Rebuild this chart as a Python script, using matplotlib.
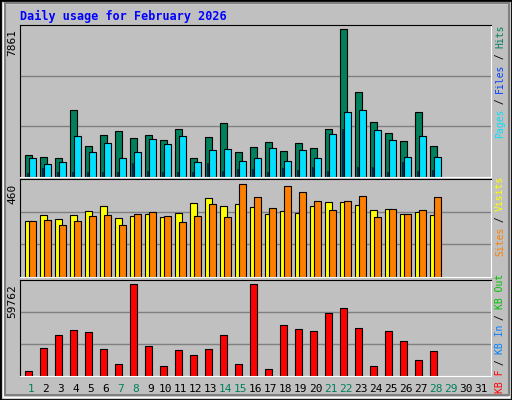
import matplotlib
matplotlib.use("Agg")
import matplotlib.pyplot as plt
from matplotlib.patches import Rectangle

days = list(range(1, 29))
all_days = list(range(1, 32))
weekend = [1, 7, 8, 14, 15, 21, 22, 28, 29]

hits_max = 7861
hits = [1150, 1040, 980, 3540, 1620, 2210, 2420, 2040, 2210, 1940, 2530, 980, 2100, 2850, 1300,
        1570, 1850, 1370, 1800, 1530, 2530, 7861, 4500, 2900, 2310, 1880, 3430, 1660]
files = [980, 660, 760, 2150, 1300, 1780, 980, 1300, 1990, 1720, 2150, 760, 1400, 1500, 850,
         1010, 1550, 820, 1400, 980, 2260, 3430, 3540, 2470, 1940, 1070, 2150, 1070]
pages = [180, 440, 230, 230, 230, 230, 230, 710, 280, 230, 230, 230, 710, 280, 390,
         390, 230, 440, 340, 500, 280, 2530, 500, 500, 230, 760, 280, 340]

visits_max = 460
visits = [276, 306, 286, 306, 326, 350, 291, 300, 310, 295, 315, 365, 390, 350, 360, 345,
          310, 326, 315, 350, 370, 370, 355, 330, 335, 310, 320, 306]
sites = [276, 281, 256, 276, 300, 306, 256, 310, 320, 300, 271, 300, 360, 296, 460, 395,
         340, 450, 420, 375, 330, 375, 400, 296, 335, 310, 330, 395]

kb_max = 59762
kb = [2840, 17900, 26400, 29700, 28400, 17200, 7420, 59762, 19200, 6110, 16800, 13500, 17200,
      26400, 7420, 59762, 4150, 32900, 30300, 29000, 40800, 44100, 31000, 6110, 29000, 22500,
      10000, 15900]

bg = "#c0c0c0"
fig = plt.figure(figsize=(5.12, 4.0), dpi=100)
fig.patch.set_facecolor(bg)
W, H = 512, 400

# bevelled frame
fig.patches.append(Rectangle((0, 0), 1, 1, transform=fig.transFigure, fill=False,
                             edgecolor="black", linewidth=2))
fig.patches.append(Rectangle((3 / W, 3 / H), 1 - 6 / W, 1 - 6 / H, transform=fig.transFigure,
                             fill=False, edgecolor="white", linewidth=1))
fig.patches.append(Rectangle((5 / W, 5 / H), 1 - 8 / W, 1 - 8 / H, transform=fig.transFigure,
                             fill=False, edgecolor="#808080", linewidth=1.5))

mono = "DejaVu Sans Mono"
fig.text(20 / W, 1 - 16 / H, "Daily usage for February 2026", color="#0000ff",
         fontsize=8.5, fontweight="bold", family=mono, va="center")

x0, x1 = 20, 491
slot = (x1 - x0) / 31.4


def make_ax(top, base, bar_top):
    ax = fig.add_axes([x0 / W, 1 - base / H, (x1 - x0) / W, (base - top) / H])
    ax.set_facecolor(bg)
    ax.set_xlim(0, 31.4)
    ax.set_xticks([])
    ax.set_yticks([])
    for s in ["top", "left"]:
        ax.spines[s].set_color("black")
    for s in ["right", "bottom"]:
        ax.spines[s].set_color("white")
    ratio = (base - top) / (base - bar_top)
    return ax, ratio


def grid(ax, ymax):
    for f in (1 / 3, 2 / 3):
        ax.axhline(ymax * f, color="#808080", linewidth=1, zorder=0)


# hits / files / pages
ax1, r = make_ax(25, 176.7, 29.3)
ym = hits_max * r
ax1.set_ylim(0, ym)
grid(ax1, ym)
for i, d in enumerate(days):
    s = d - 1
    ax1.bar(s + 0.31, hits[i], width=0.49, align="edge", color="#00805c", edgecolor="black", linewidth=0.8)
    ax1.bar(s + 0.58, files[i], width=0.49, align="edge", color="#00e0ff", edgecolor="black", linewidth=0.8)
    ax1.bar(s + 0.44, pages[i], width=0.11, align="edge", color="#0040ff", edgecolor="black", linewidth=0.4)

# visits / sites
ax2, r = make_ax(179, 276.7, 184.3)
ym = visits_max * r
ax2.set_ylim(0, ym)
grid(ax2, ym)
for i, d in enumerate(days):
    s = d - 1
    ax2.bar(s + 0.31, visits[i], width=0.49, align="edge", color="#ffff00", edgecolor="black", linewidth=0.8)
    ax2.bar(s + 0.58, sites[i], width=0.49, align="edge", color="#ff8000", edgecolor="black", linewidth=0.8)

# kbytes
ax3, r = make_ax(280, 375.7, 284.3)
ym = kb_max * r
ax3.set_ylim(0, ym)
grid(ax3, ym)
for i, d in enumerate(days):
    s = d - 1
    ax3.bar(s + 0.31, kb[i], width=0.49, align="edge", color="#ff0000", edgecolor="black", linewidth=0.8)

# max labels on the left
for txt, y in [("7861", 29), ("460", 184), ("59762", 284)]:
    fig.text(17 / W, 1 - y / H, txt, rotation=90, fontsize=8, family=mono,
             ha="right", va="top")

# day labels
for d in all_days:
    c = "#00805c" if d in weekend else "black"
    xs = (x0 + (d - 1 + 0.72) * slot) / W
    fig.text(xs, 1 - 389 / H, str(d), color=c, fontsize=8, family=mono, ha="center", va="center")


# right side legends, read bottom to top, starting at y_bottom
def legend(parts, y_bottom):
    y = y_bottom
    for t, c in parts:
        fig.text(500 / W, 1 - y / H, t, color=c, rotation=90, fontsize=7,
                 family=mono, ha="center", va="bottom")
        y -= len(t) * 5.6


legend([("Pages", "#00e0ff"), (" / ", "black"), ("Files", "#0040ff"), (" / ", "black"),
        ("Hits", "#00805c")], 138)
legend([("Sites", "#ff8000"), (" / ", "black"), ("Visits", "#ffff00")], 256)
legend([("KB F", "#ff0000"), (" / ", "black"), ("KB In", "#0080ff"), (" / ", "black"),
        ("KB Out", "#00c000")], 393)

fig.savefig("out.png", dpi=100, facecolor=bg)
